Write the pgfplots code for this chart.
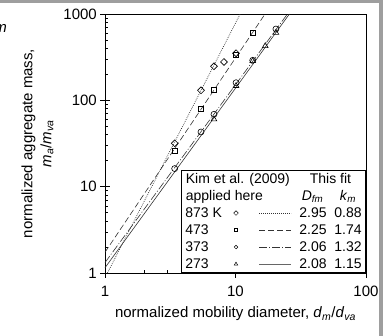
\documentclass[border=0pt]{standalone}
\usepackage{pgfplots}
\pgfplotsset{compat=1.18}
\usepackage{fontspec}
\setmainfont{Liberation Sans}
\newcommand{\lgf}{\fontsize{14}{16}\selectfont}
\newcommand{\tkf}{\fontsize{15}{19}\selectfont}
\begin{document}
\begin{tikzpicture}
\begin{axis}[
  at={(0,0)}, anchor=south west,
  scale only axis, width=261pt, height=259pt,
  xmode=log, ymode=log,
  xmin=1, xmax=100, ymin=1, ymax=1000,
  axis line style={line width=0.8pt, black},
  xtick={1,10,100}, xticklabels={1,10,100},
  ytick={1,10,100,1000}, yticklabels={1,10,100,1000},
  minor xtick={2,3,4,5,6,7,8,9,20,30,40,50,60,70,80,90},
  minor ytick={2,3,4,5,6,7,8,9,20,30,40,50,60,70,80,90,200,300,400,500,600,700,800,900},
  tick align=inside,
  xtick pos=bottom, ytick pos=left,
  major tick length=5pt, minor tick length=3.5pt,
  tick style={black, line width=0.6pt},
  extra x ticks={1,10,100}, extra x tick labels={},
  extra y ticks={1,10,100,1000}, extra y tick labels={},
  extra tick style={tick align=outside},
  xticklabel style={font=\tkf, anchor=center, inner sep=0pt, yshift=-18pt},
  yticklabel style={font=\tkf, anchor=east, inner sep=0pt, xshift=-8pt},
  xlabel={normalized mobility diameter, \textit{d}\textsubscript{\textit{m}}/\textit{d}\textsubscript{\textit{va}}},
  xlabel style={font=\tkf, at={(axis description cs:0.5,0)}, anchor=center, yshift=-41pt},
  ylabel={normalized aggregate mass,\\\textit{m}\textsubscript{\textit{a}}/\textit{m}\textsubscript{\textit{va}}},
  ylabel style={font=\tkf, align=center, at={(axis description cs:-0.2586,0.5)}, anchor=center},
  legend style={at={(rel axis cs:1,0)}, anchor=south east, draw=black, line width=0.8pt, fill=white,
    font=\lgf, inner xsep=4pt, inner ysep=1.5pt, row sep=3pt, column sep=0pt,
    nodes={inner sep=0pt, text height=11.5pt, text depth=2.5pt}, cells={anchor=west}},
]
% data (Kim et al. 2009)
\addplot[only marks, mark=square, mark size=2.4pt, mark options={solid, rotate=45, line width=0.6pt, black, fill=white}, forget plot]
  coordinates {(3.42,31.8) (5.44,130.7) (6.84,248) (8.16,278) (10.1,351)};
\addplot[only marks, mark=square, mark size=2.5pt, mark options={solid, line width=0.6pt, black, fill=white}, forget plot]
  coordinates {(3.42,26.1) (5.44,80) (6.84,132) (10.1,341) (13.55,607)};
\addplot[only marks, mark=o, mark size=3pt, mark options={solid, line width=0.6pt, black, fill=white}, forget plot]
  coordinates {(3.42,16.2) (5.44,43.0) (6.84,68.9) (10.1,160) (13.55,291) (20.4,670)};
\addplot[only marks, mark=triangle, mark size=3.3pt, mark options={solid, line width=0.6pt, black, fill=white}, forget plot]
  coordinates {(6.84,60.3) (10.1,147) (13.55,286) (16.9,426) (20.4,607)};

\addlegendimage{empty legend}
\addlegendentry{\llap{\makebox[114pt][l]{Kim et al. (2009)}}\rlap{\hspace{10pt}This fit}}
\addlegendimage{empty legend}
\addlegendentry{\llap{\makebox[114pt][l]{applied here}}\rlap{\hspace{2pt}\makebox[38pt][l]{\textit{D}\textsubscript{\textit{fm}}}\textit{k}\textsubscript{\textit{m}}}}

% fit lines
\addplot[black!80, line width=0.7pt, dash pattern=on 0.8pt off 1.2pt,
  legend image code/.code={
    \path (-50pt,0pt) (63pt,0pt);
    \draw[black, line width=0.5pt, solid, mark=square, mark size=1.6pt, mark options={rotate=45}] plot coordinates {(0pt,0pt)};
    \draw[black!80, line width=0.7pt, dash pattern=on 0.8pt off 1.2pt] (23pt,0pt) -- (55pt,0pt);}]
  coordinates {(1.0443,1) (10.859,1000)};
\addlegendentry{\llap{\makebox[114pt][l]{873 K}}\makebox[35pt][l]{2.95}0.88}
\addplot[black!80, line width=0.6pt, dash pattern=on 6pt off 3pt,
  legend image code/.code={
    \path (-50pt,0pt) (63pt,0pt);
    \draw[black, line width=0.5pt, solid, mark=square, mark size=1.6pt] plot coordinates {(0pt,0pt)};
    \draw[black!80, line width=0.6pt, dash pattern=on 6pt off 3pt] (23pt,0pt) -- (55pt,0pt);}]
  coordinates {(1,1.74) (16.843,1000)};
\addlegendentry{\llap{\makebox[114pt][l]{473}}\makebox[35pt][l]{2.25}1.74}
\addplot[black!80, line width=0.6pt, dash pattern=on 8pt off 2pt on 1pt off 2pt,
  legend image code/.code={
    \path (-50pt,0pt) (63pt,0pt);
    \draw[black, line width=0.5pt, solid, mark=o, mark size=1.8pt] plot coordinates {(0pt,0pt)};
    \draw[black!80, line width=0.6pt, dash pattern=on 8pt off 2pt on 1pt off 2pt] (23pt,0pt) -- (55pt,0pt);}]
  coordinates {(1,1.32) (24.99,1000)};
\addlegendentry{\llap{\makebox[114pt][l]{373}}\makebox[35pt][l]{2.06}1.32}
\addplot[black!80, line width=0.6pt, solid,
  legend image code/.code={
    \path (-50pt,0pt) (63pt,0pt);
    \draw[black, line width=0.5pt, solid, mark=triangle, mark size=2pt] plot coordinates {(0pt,0pt)};
    \draw[black!60, line width=0.7pt, solid] (23pt,0pt) -- (55pt,0pt);}]
  coordinates {(1,1.15) (25.89,1000)};
\addlegendentry{\llap{\makebox[114pt][l]{273}}\makebox[35pt][l]{2.08}1.15}
\end{axis}
\fill[black!38] (-105pt,269.5pt) rectangle (278pt,273pt);
\fill[black!38] (274pt,-63pt) rectangle (278pt,273pt);
\node[anchor=base east, inner sep=0pt, font=\tkf\itshape] at (-98pt,240pt) {m};
\pgfresetboundingbox
\useasboundingbox (-105pt,-63pt) rectangle (286pt,273pt);
\end{tikzpicture}
\end{document}
